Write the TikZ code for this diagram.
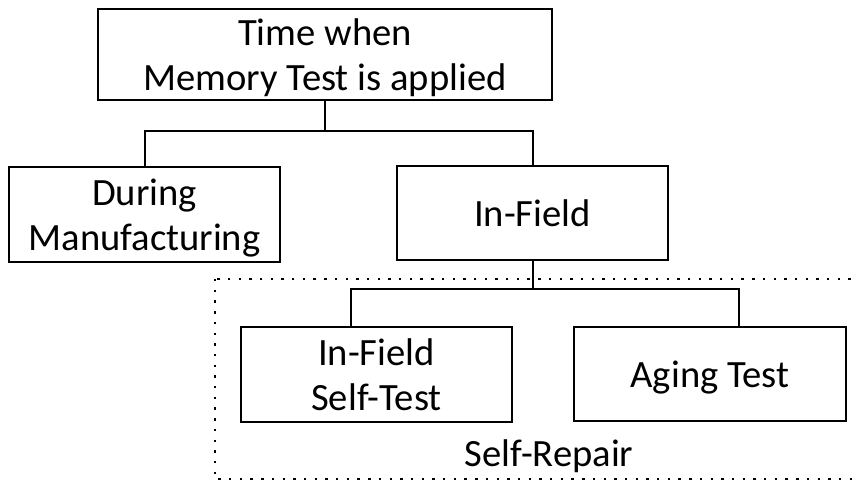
\documentclass[tikz,border=0pt]{standalone}
\usepackage{fontspec}
\setmainfont{Carlito}
\begin{document}
\begin{tikzpicture}[x=1pt,y=-1pt,
  box/.style={draw, line width=2pt, inner sep=0pt, align=center,
    minimum width=271pt, minimum height=95pt, text depth=0pt,
    font=\fontsize{38.6}{45}\selectfont},
  link/.style={line width=2pt},
  dotbox/.style={line width=2.4pt, dash pattern=on 2.4pt off 8.3pt}]
\useasboundingbox (0,0) rectangle (857,482);
\clip (0,0) rectangle (857,482);

% tree nodes
\node[box, minimum width=454pt, minimum height=91pt] (top) at (325,54.5)
  {Time when\\Memory Test is applied};
\node[box] (manuf) at (144.5,214.5) {During\\Manufacturing};
\node[box, minimum height=94pt] (infield) at (532.5,213) {In-Field};
\node[box] (selftest) at (376.5,374.5) {In-Field\\Self-Test};
\node[box, minimum width=272pt, minimum height=94pt] (aging) at (710,374) {Aging Test};

% self-repair region
\draw[dotbox] (215,279) rectangle (900,479);
\node[font=\fontsize{38.6}{45}\selectfont, anchor=base] (sr) at (549,466) {Self-Repair};

% first level connectors
\coordinate (j1) at (325,131);
\draw[link] (top.south) -- (j1);
\draw[link] (manuf.north) -- (manuf.north |- j1) -- (infield.north |- j1) -- (infield.north);

% second level connectors
\coordinate (j2) at (532.5,289);
\path (351,0) coordinate (x1) (739,0) coordinate (x2);
\draw[link] (infield.south) -- (j2);
\draw[link] (selftest.north -| x1) |- (j2) -| (aging.north -| x2);
\end{tikzpicture}
\end{document}
